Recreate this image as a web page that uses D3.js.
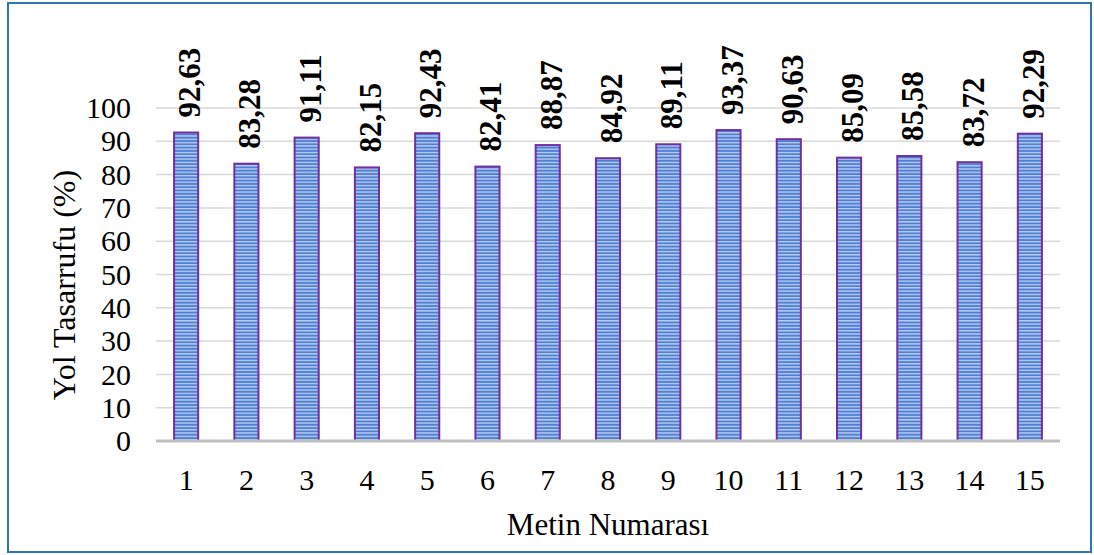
<!DOCTYPE html>
<html>
<head>
<meta charset="utf-8">
<script src="https://cdn.jsdelivr.net/npm/d3@7"></script>
<style>
  html, body { margin: 0; padding: 0; background: #fff; }
  svg { display: block; }
  svg text { font-family: "Liberation Serif", "Tinos", "Times New Roman", "DejaVu Serif", serif; fill: #000; }
</style>
</head>
<body>
<svg id="chart" width="1094" height="555"></svg>
<script>
// Metin numaraları ve yol tasarrufu yüzdeleri
const categories = ["1","2","3","4","5","6","7","8","9","10","11","12","13","14","15"];
const values = [92.63, 83.28, 91.11, 82.15, 92.43, 82.41, 88.87, 84.92, 89.11, 93.37, 90.63, 85.09, 85.58, 83.72, 92.29];
const yTicks = [0, 10, 20, 30, 40, 50, 60, 70, 80, 90, 100];
const xTitle = "Metin Numarası";
const yTitle = "Yol Tasarrufu (%)";

const FONT = "'Liberation Serif', 'Tinos', 'Times New Roman', 'DejaVu Serif', serif";

const svg = d3.select("#chart");
const plot = { left: 156, right: 1060, top: 108, bottom: 441 };

// Dış çerçeve
svg.append("rect")
  .attr("x", 8).attr("y", 3)
  .attr("width", 1083).attr("height", 549)
  .attr("fill", "#fff")
  .attr("stroke", "#2e75b6")
  .attr("stroke-width", 2);

// Çubuklar için yatay çizgili desen
const defs = svg.append("defs");
const pat = defs.append("pattern")
  .attr("id", "stripes")
  .attr("patternUnits", "userSpaceOnUse")
  .attr("width", 8).attr("height", 3.3);
pat.append("rect").attr("width", 8).attr("height", 3.3).attr("fill", "#4f7fd3");
pat.append("rect").attr("y", 0).attr("width", 8).attr("height", 1.4).attr("fill", "#b9cdf0");

const x = d3.scaleBand()
  .domain(categories)
  .range([plot.left, plot.right])
  .paddingInner(0.6)
  .paddingOuter(0.3);

const y = d3.scaleLinear()
  .domain([0, 100])
  .range([plot.bottom, plot.top]);

// Yatay ızgara çizgileri
svg.append("g")
  .selectAll("line")
  .data(yTicks.filter(d => d > 0))
  .join("line")
  .attr("x1", plot.left).attr("x2", plot.right)
  .attr("y1", d => y(d)).attr("y2", d => y(d))
  .attr("stroke", "#d9d9d9")
  .attr("stroke-width", 1.5);

// Y ekseni etiketleri
const yAxis = d3.axisLeft(y).tickValues(yTicks).tickSize(0).tickPadding(25);
const gy = svg.append("g")
  .attr("transform", `translate(${plot.left},0)`)
  .call(yAxis)
  .attr("font-family", FONT);
gy.select(".domain").remove();
gy.selectAll("text")
  .style("font-family", FONT)
  .style("font-size", "30px")
  .attr("fill", "#000");

// Çubuklar
svg.append("g")
  .selectAll("rect")
  .data(values)
  .join("rect")
  .attr("x", (d, i) => x(categories[i]))
  .attr("y", d => y(d))
  .attr("width", x.bandwidth())
  .attr("height", d => y(0) - y(d))
  .attr("fill", "url(#stripes)")
  .attr("stroke", "#7030a0")
  .attr("stroke-width", 2);

// X ekseni çizgisi ve etiketleri
const xAxis = d3.axisBottom(x).tickSize(0).tickPadding(28);
const gx = svg.append("g")
  .attr("transform", `translate(0,${plot.bottom})`)
  .call(xAxis)
  .attr("font-family", FONT);
gx.select(".domain")
  .attr("stroke", "#bfbfbf")
  .attr("stroke-width", 3)
  .attr("d", `M${plot.left},0H${plot.right}`);
gx.selectAll("text")
  .style("font-family", FONT)
  .style("font-size", "30px")
  .attr("fill", "#000");

// Değer etiketleri (dikey, kalın)
svg.append("g")
  .selectAll("text")
  .data(values)
  .join("text")
  .attr("transform", (d, i) => {
    const cx = x(categories[i]) + x.bandwidth() / 2;
    return `translate(${cx + 14},${y(d) - 15}) rotate(-90)`;
  })
  .attr("text-anchor", "start")
  .style("font-family", FONT)
  .style("font-size", "31px")
  .style("font-weight", "bold")
  .text(d => d.toFixed(2).replace(".", ","));

// Eksen başlıkları
svg.append("text")
  .attr("x", (plot.left + plot.right) / 2)
  .attr("y", 535)
  .attr("text-anchor", "middle")
  .style("font-family", FONT)
  .style("font-size", "31px")
  .text(xTitle);

svg.append("text")
  .attr("transform", `translate(75,285) rotate(-90)`)
  .attr("text-anchor", "middle")
  .style("font-family", FONT)
  .style("font-size", "32px")
  .text(yTitle);
</script>
</body>
</html>
